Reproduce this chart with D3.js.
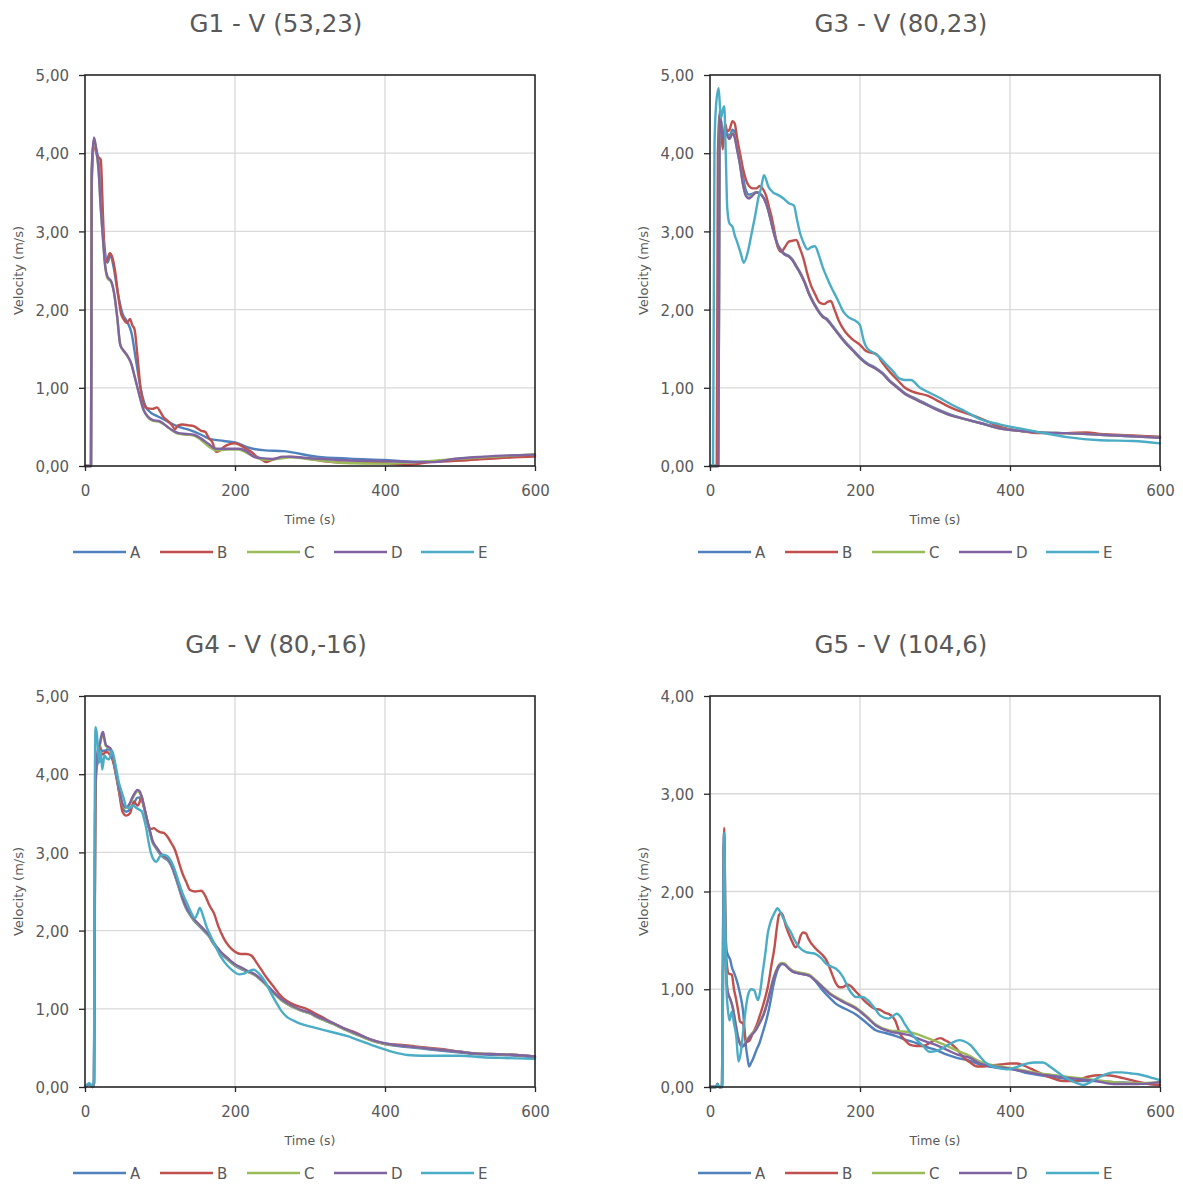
<!DOCTYPE html>
<html>
<head>
<meta charset="utf-8">
<script src="https://cdn.jsdelivr.net/npm/d3@7"></script>
<style>
  html, body { margin: 0; padding: 0; background: #ffffff; }
  svg { display: block; }
  text { font-family: "DejaVu Sans", sans-serif; fill: #595959; }
</style>
</head>
<body>
<svg id="chart" width="1183" height="1186"></svg>
<script>
// ---------- data (time s, velocity m/s) ----------
const seriesNames = ["A", "B", "C", "D", "E"];
const seriesColors = ["#4F81BD", "#C0504D", "#9BBB59", "#8064A2", "#4BACC6"];
const xTicks = [0, 200, 400, 600];
const titles = ["G1 - V (53,23)", "G3 - V (80,23)", "G4 - V (80,-16)", "G5 - V (104,6)"];
const yMaxes = [5, 5, 5, 4];

// G1
const g1A = [[0,0],[8,0],[9,3.7],[12,4.15],[15,4.05],[18,3.9],[22,3.3],[26,2.8],[30,2.6],[34,2.7],[38,2.55],[44,2.2],[50,1.95],[56,1.85],[62,1.7],[68,1.35],[74,1.0],[80,0.78],[88,0.68],[96,0.64],[110,0.57],[125,0.5],[140,0.46],[155,0.4],[165,0.35],[185,0.32],[200,0.3],[220,0.23],[240,0.2],[264,0.19],[309,0.12],[353,0.094],[398,0.077],[442,0.055],[487,0.064],[531,0.107],[600,0.136]];
const g1B = [[0,0],[8,0],[9,3.6],[12,4.15],[15,4.0],[18,3.95],[21,3.92],[24,3.2],[27,2.6],[30,2.65],[33,2.72],[36,2.68],[40,2.5],[44,2.2],[48,1.95],[52,1.87],[56,1.83],[60,1.88],[63,1.8],[66,1.75],[70,1.4],[74,1.0],[78,0.8],[82,0.74],[90,0.73],[96,0.75],[100,0.7],[105,0.62],[110,0.58],[116,0.52],[120,0.47],[124,0.52],[130,0.53],[138,0.52],[145,0.51],[150,0.48],[155,0.45],[160,0.44],[165,0.36],[170,0.3],[175,0.18],[180,0.2],[186,0.25],[193,0.28],[200,0.29],[208,0.26],[215,0.22],[222,0.18],[229,0.12],[236,0.08],[242,0.05],[250,0.08],[258,0.1],[273,0.12],[300,0.09],[330,0.05],[360,0.04],[400,0.035],[430,0.015],[460,0.05],[500,0.07],[550,0.1],[600,0.12]];
const g1C = [[0,0],[8,0],[9,3.8],[12,4.18],[15,4.03],[18,3.8],[21,3.3],[24,2.9],[27,2.55],[30,2.4],[35,2.35],[39,2.2],[43,1.9],[47,1.55],[52,1.46],[56,1.41],[62,1.3],[66,1.15],[70,1.0],[74,0.85],[78,0.72],[84,0.62],[90,0.58],[100,0.56],[110,0.5],[118,0.44],[125,0.41],[135,0.4],[145,0.39],[155,0.33],[165,0.25],[175,0.2],[190,0.21],[205,0.21],[215,0.17],[225,0.12],[240,0.08],[255,0.09],[275,0.11],[309,0.075],[353,0.035],[398,0.03],[442,0.05],[487,0.085],[531,0.11],[600,0.15]];
const g1D = [[0,0],[8,0],[9,3.8],[12,4.2],[15,4.05],[18,3.8],[21,3.3],[24,2.9],[27,2.55],[30,2.42],[35,2.36],[39,2.2],[43,1.9],[47,1.55],[52,1.47],[56,1.42],[62,1.3],[66,1.15],[70,1.0],[74,0.85],[78,0.72],[84,0.63],[90,0.59],[100,0.57],[110,0.5],[118,0.45],[125,0.42],[135,0.41],[145,0.4],[155,0.35],[165,0.28],[175,0.22],[190,0.22],[205,0.22],[215,0.19],[225,0.12],[235,0.1],[250,0.09],[264,0.12],[300,0.1],[353,0.07],[398,0.064],[442,0.05],[464,0.05],[487,0.085],[531,0.12],[600,0.145]];
const g1E = [];

// G3
const g3A = [[0,0],[11,0],[12,2.2],[13,4.45],[15,4.4],[17,4.25],[20,4.28],[23,4.25],[26,4.22],[30,4.3],[33,4.27],[36,4.12],[40,3.92],[44,3.7],[48,3.52],[52,3.47],[56,3.48],[62,3.5],[68,3.47],[72,3.42],[78,3.27],[82,3.12],[86,2.96],[90,2.84],[95,2.76],[100,2.71],[105,2.69],[110,2.64],[115,2.56],[120,2.48],[126,2.36],[132,2.21],[140,2.06],[145,1.98],[150,1.92],[156,1.88],[162,1.81],[170,1.71],[180,1.59],[190,1.49],[200,1.39],[210,1.31],[220,1.26],[230,1.19],[240,1.09],[250,1.01],[260,0.93],[270,0.88],[285,0.81],[300,0.74],[320,0.66],[340,0.6],[360,0.55],[387,0.49],[413,0.45],[440,0.43],[476,0.42],[520,0.4],[564,0.38],[600,0.37]];
const g3B = [[0,0],[9,0],[10.5,4.0],[13,4.5],[15,4.3],[17,4.05],[20,4.38],[23,4.28],[26,4.3],[30,4.41],[33,4.38],[36,4.2],[40,4.0],[44,3.8],[48,3.66],[52,3.58],[57,3.55],[62,3.55],[66,3.58],[70,3.55],[75,3.45],[79,3.3],[82,3.19],[86,3.0],[90,2.81],[95,2.74],[100,2.8],[105,2.87],[110,2.88],[115,2.89],[120,2.78],[125,2.64],[130,2.45],[135,2.3],[140,2.2],[146,2.09],[152,2.07],[157,2.1],[161,2.11],[166,2.0],[172,1.85],[180,1.72],[190,1.62],[200,1.55],[208,1.47],[215,1.45],[222,1.43],[230,1.32],[240,1.2],[250,1.1],[260,1.0],[270,0.95],[290,0.9],[310,0.8],[325,0.73],[340,0.68],[355,0.63],[370,0.57],[387,0.5],[413,0.45],[440,0.42],[476,0.42],[502,0.43],[520,0.41],[564,0.39],[600,0.37]];
const g3C = [[0,0],[11,0],[12,2.0],[13,4.5],[15,4.36],[17,4.22],[20,4.29],[22,4.25],[26,4.19],[30,4.26],[33,4.21],[36,4.06],[40,3.86],[44,3.61],[48,3.46],[52,3.43],[56,3.46],[62,3.5],[68,3.47],[72,3.42],[78,3.26],[82,3.1],[86,2.95],[90,2.83],[95,2.75],[100,2.7],[105,2.68],[110,2.63],[115,2.55],[120,2.47],[126,2.35],[132,2.2],[140,2.05],[145,1.97],[150,1.91],[156,1.87],[162,1.8],[170,1.7],[180,1.58],[190,1.48],[200,1.38],[210,1.3],[220,1.25],[230,1.18],[240,1.08],[250,1.0],[260,0.92],[270,0.87],[285,0.8],[300,0.73],[320,0.65],[340,0.6],[360,0.55],[387,0.48],[413,0.45],[440,0.43],[476,0.42],[520,0.4],[564,0.38],[600,0.36]];
const g3D = [[0,0],[11,0],[12,2.0],[13,4.55],[15,4.35],[17,4.2],[20,4.3],[22,4.25],[26,4.18],[30,4.25],[33,4.2],[36,4.05],[40,3.85],[44,3.6],[48,3.45],[52,3.42],[56,3.45],[62,3.5],[68,3.47],[72,3.42],[78,3.26],[82,3.1],[86,2.95],[90,2.83],[95,2.75],[100,2.7],[105,2.68],[110,2.63],[115,2.55],[120,2.47],[126,2.35],[132,2.2],[140,2.05],[145,1.97],[150,1.91],[156,1.87],[162,1.8],[170,1.7],[180,1.58],[190,1.48],[200,1.38],[210,1.3],[220,1.25],[230,1.18],[240,1.08],[250,1.0],[260,0.92],[270,0.87],[285,0.8],[300,0.73],[320,0.65],[340,0.6],[360,0.55],[387,0.48],[413,0.45],[440,0.43],[476,0.42],[520,0.4],[564,0.38],[600,0.36]];
const g3E = [[0,0],[4,0],[6,4.1],[8,4.6],[11.5,4.83],[14.5,4.45],[17,4.55],[19,4.6],[21,4.0],[23,3.3],[26,3.1],[30,3.06],[33,2.95],[36,2.87],[41,2.72],[45,2.6],[50,2.72],[55,2.95],[60,3.19],[65,3.45],[68,3.55],[72,3.72],[78,3.57],[84,3.5],[90,3.47],[98,3.42],[105,3.36],[112,3.33],[116,3.15],[120,2.98],[125,2.85],[130,2.77],[135,2.8],[140,2.81],[145,2.7],[150,2.55],[155,2.43],[162,2.28],[170,2.13],[178,1.97],[185,1.9],[195,1.85],[200,1.8],[205,1.6],[210,1.5],[218,1.45],[225,1.4],[235,1.3],[245,1.2],[252,1.12],[260,1.1],[268,1.1],[280,1.0],[290,0.95],[310,0.85],[325,0.77],[340,0.7],[360,0.6],[387,0.53],[413,0.48],[440,0.43],[476,0.37],[520,0.33],[564,0.32],[600,0.29]];

// G4
const g4A = [[0,0],[6,0.04],[10,0],[12,0.05],[13.5,3.5],[15,4.05],[17,4.15],[20,4.25],[22,4.3],[24,4.3],[27,4.3],[30,4.32],[34,4.3],[38,4.15],[41,4.0],[44,3.85],[47,3.7],[50,3.58],[55,3.52],[60,3.55],[65,3.62],[70,3.7],[74,3.7],[78,3.6],[82,3.43],[86,3.28],[90,3.13],[95,3.05],[100,2.98],[105,2.93],[110,2.9],[115,2.83],[120,2.7],[125,2.55],[130,2.4],[135,2.28],[140,2.2],[145,2.13],[150,2.08],[155,2.03],[160,1.98],[165,1.93],[170,1.85],[175,1.78],[182,1.7],[190,1.63],[200,1.55],[210,1.5],[218,1.47],[225,1.44],[232,1.39],[240,1.32],[248,1.24],[255,1.17],[262,1.11],[270,1.06],[280,1.01],[290,0.97],[300,0.94],[310,0.89],[320,0.85],[330,0.81],[345,0.74],[360,0.68],[375,0.62],[390,0.57],[400,0.55],[420,0.52],[440,0.5],[460,0.48],[480,0.46],[500,0.44],[520,0.42],[550,0.41],[575,0.4],[600,0.38]];
const g4B = [[0,0],[6,0.04],[10,0],[12,0.05],[13.5,3.0],[15,4.1],[17,4.2],[20,4.36],[22,4.27],[24,4.25],[27,4.28],[30,4.28],[33,4.25],[36,4.2],[40,4.07],[45,3.8],[50,3.52],[55,3.47],[60,3.5],[65,3.65],[70,3.6],[73,3.65],[75,3.73],[78,3.6],[82,3.45],[85,3.33],[88,3.3],[92,3.31],[96,3.28],[100,3.26],[105,3.25],[110,3.2],[115,3.12],[120,3.03],[125,2.88],[130,2.73],[135,2.62],[140,2.52],[147,2.5],[155,2.51],[160,2.45],[166,2.32],[172,2.22],[178,2.05],[185,1.9],[192,1.8],[200,1.73],[208,1.7],[215,1.7],[222,1.68],[228,1.6],[235,1.5],[242,1.4],[250,1.3],[258,1.2],[265,1.13],[275,1.07],[285,1.03],[295,1.0],[305,0.95],[315,0.9],[330,0.82],[345,0.75],[360,0.7],[375,0.63],[390,0.58],[400,0.55],[420,0.54],[440,0.52],[460,0.5],[480,0.48],[500,0.45],[520,0.43],[550,0.42],[575,0.41],[600,0.39]];
const g4C = [[0,0],[6,0.04],[10,0],[12,0.05],[13.5,3.5],[15,4.1],[17,4.28],[20,4.38],[22,4.47],[24,4.5],[26,4.43],[28,4.36],[31,4.34],[34,4.32],[38,4.19],[41,4.04],[44,3.89],[47,3.74],[50,3.61],[54,3.57],[58,3.59],[63,3.68],[67,3.75],[70,3.78],[73,3.76],[76,3.69],[79,3.57],[82,3.44],[86,3.29],[90,3.14],[95,3.06],[100,2.99],[105,2.94],[110,2.91],[115,2.84],[120,2.71],[125,2.57],[130,2.41],[135,2.29],[140,2.21],[145,2.14],[150,2.09],[155,2.04],[160,1.99],[165,1.94],[170,1.86],[175,1.79],[182,1.71],[190,1.64],[200,1.56],[210,1.51],[218,1.47],[225,1.44],[232,1.39],[240,1.32],[248,1.24],[255,1.17],[262,1.11],[270,1.06],[280,1.01],[290,0.97],[300,0.94],[310,0.89],[320,0.85],[330,0.81],[345,0.74],[360,0.68],[375,0.62],[390,0.57],[400,0.55],[420,0.53],[440,0.51],[460,0.49],[480,0.47],[500,0.45],[520,0.43],[550,0.42],[575,0.41],[600,0.39]];
const g4D = [[0,0],[6,0.04],[10,0],[12,0.05],[13.5,3.5],[15,4.1],[17,4.3],[20,4.4],[22,4.5],[24,4.54],[26,4.45],[28,4.37],[31,4.35],[34,4.33],[38,4.2],[41,4.05],[44,3.9],[47,3.75],[50,3.62],[54,3.58],[58,3.6],[63,3.7],[67,3.77],[70,3.8],[73,3.78],[76,3.7],[79,3.58],[82,3.45],[86,3.3],[90,3.15],[95,3.07],[100,3.0],[105,2.95],[110,2.92],[115,2.85],[120,2.72],[125,2.58],[130,2.42],[135,2.3],[140,2.22],[145,2.15],[150,2.1],[155,2.05],[160,2.0],[165,1.95],[170,1.87],[175,1.8],[182,1.72],[190,1.65],[200,1.57],[210,1.52],[218,1.48],[225,1.45],[232,1.4],[240,1.33],[248,1.25],[255,1.18],[262,1.12],[270,1.07],[280,1.02],[290,0.98],[300,0.95],[310,0.9],[320,0.86],[330,0.82],[345,0.75],[360,0.69],[375,0.63],[390,0.58],[400,0.56],[420,0.53],[440,0.51],[460,0.49],[480,0.47],[500,0.45],[520,0.43],[550,0.42],[575,0.41],[600,0.39]];
const g4E = [[0,0],[6,0.05],[10,0],[12,0.1],[13,3.5],[14,4.6],[16,4.5],[17.5,4.3],[19,4.15],[21,4.3],[23,4.06],[26,4.24],[29,4.2],[32,4.19],[36,4.3],[39,4.2],[42,4.05],[45,3.9],[48,3.8],[52,3.68],[55,3.58],[60,3.57],[64,3.6],[68,3.57],[72,3.55],[76,3.52],[79,3.42],[82,3.29],[85,3.12],[88,2.99],[92,2.9],[95,2.88],[100,2.95],[104,2.97],[110,2.95],[114,2.9],[118,2.82],[124,2.65],[130,2.48],[136,2.35],[142,2.22],[147,2.16],[150,2.22],[153,2.29],[157,2.2],[162,2.05],[168,1.92],[175,1.78],[182,1.65],[190,1.55],[198,1.48],[205,1.44],[212,1.45],[218,1.48],[225,1.5],[232,1.45],[240,1.35],[248,1.2],[255,1.08],[262,0.97],[270,0.89],[280,0.84],[290,0.8],[310,0.75],[330,0.7],[350,0.65],[370,0.58],[390,0.51],[410,0.45],[430,0.41],[450,0.4],[480,0.4],[500,0.4],[530,0.38],[560,0.37],[600,0.36]];

// G5
const g5A = [[0,0],[8,0],[10,0.03],[12,0],[16,0],[17,1.0],[18.5,2.6],[20,1.8],[22,1.4],[24,1.35],[27,1.3],[29,1.23],[33,1.15],[36,1.08],[39,0.99],[42,0.88],[44,0.78],[46,0.6],[48,0.41],[50,0.3],[52,0.21],[55,0.25],[58,0.3],[62,0.38],[66,0.45],[70,0.55],[75,0.68],[80,0.85],[84,1.02],[88,1.15],[92,1.23],[97,1.26],[102,1.24],[106,1.21],[112,1.18],[119,1.16],[127,1.15],[135,1.13],[142,1.07],[150,0.99],[160,0.91],[168,0.85],[180,0.8],[195,0.74],[208,0.66],[221,0.58],[235,0.55],[248,0.52],[262,0.48],[275,0.45],[288,0.41],[301,0.38],[316,0.33],[328,0.3],[346,0.27],[360,0.23],[380,0.2],[404,0.18],[425,0.14],[449,0.11],[470,0.09],[493,0.06],[515,0.06],[538,0.05],[570,0.04],[600,0.02]];
const g5B = [[0,0],[8,0],[10,0.03],[12,0],[16,0],[17.5,1.2],[19,2.65],[20.5,1.8],[22,1.3],[25,1.16],[29,1.15],[32,1.0],[35,0.89],[38,0.76],[40,0.67],[44,0.65],[46,0.55],[48,0.46],[52,0.47],[57,0.55],[62,0.63],[66,0.72],[72,0.87],[77,1.02],[82,1.25],[86,1.43],[89,1.62],[92,1.76],[95,1.78],[97,1.76],[101,1.65],[106,1.55],[110,1.48],[114,1.43],[117,1.45],[121,1.55],[124,1.58],[128,1.57],[131,1.52],[134,1.48],[137,1.45],[143,1.4],[150,1.35],[155,1.3],[159,1.23],[163,1.15],[168,1.06],[173,1.02],[177,1.02],[183,1.05],[188,1.03],[194,0.98],[199,0.94],[206,0.88],[212,0.84],[220,0.8],[227,0.79],[233,0.76],[240,0.74],[247,0.68],[253,0.55],[260,0.48],[267,0.43],[275,0.42],[284,0.42],[295,0.46],[307,0.5],[313,0.48],[320,0.45],[330,0.38],[338,0.3],[347,0.25],[356,0.21],[365,0.21],[373,0.22],[387,0.23],[400,0.24],[409,0.24],[418,0.22],[427,0.19],[438,0.15],[449,0.11],[460,0.08],[471,0.06],[489,0.06],[498,0.09],[507,0.11],[518,0.12],[529,0.12],[540,0.11],[551,0.09],[562,0.07],[573,0.05],[586,0.03],[600,0.02]];
const g5C = [[0,0],[8,0],[10,0.03],[12,0],[16,0],[17,1.0],[18.5,2.45],[20,1.6],[22,1.1],[24,0.97],[27,0.9],[30,0.83],[34,0.66],[37,0.53],[40,0.45],[43,0.42],[47,0.45],[50,0.49],[55,0.54],[61,0.59],[66,0.66],[72,0.76],[76,0.86],[80,0.98],[84,1.1],[88,1.19],[92,1.25],[96,1.27],[100,1.26],[105,1.22],[110,1.19],[120,1.17],[132,1.15],[140,1.1],[150,1.03],[160,0.96],[168,0.92],[180,0.87],[195,0.81],[208,0.73],[221,0.64],[239,0.58],[252,0.57],[266,0.56],[276,0.54],[290,0.5],[301,0.47],[316,0.42],[330,0.37],[346,0.32],[360,0.26],[380,0.22],[404,0.19],[425,0.16],[449,0.13],[470,0.11],[493,0.09],[515,0.07],[538,0.05],[570,0.04],[600,0.05]];
const g5D = [[0,0],[8,0],[10,0.03],[12,0],[16,0],[17,1.0],[18.5,2.5],[20,1.6],[22,1.1],[24,0.96],[27,0.9],[30,0.82],[34,0.65],[37,0.52],[40,0.44],[43,0.41],[47,0.44],[50,0.48],[55,0.53],[61,0.58],[66,0.65],[72,0.75],[76,0.85],[80,0.97],[84,1.09],[88,1.18],[92,1.24],[96,1.26],[100,1.25],[105,1.21],[110,1.18],[120,1.16],[132,1.14],[140,1.09],[150,1.02],[160,0.95],[168,0.91],[180,0.86],[195,0.8],[208,0.72],[221,0.63],[239,0.57],[252,0.55],[266,0.53],[276,0.5],[290,0.46],[301,0.43],[316,0.38],[330,0.33],[346,0.3],[360,0.24],[380,0.21],[404,0.18],[425,0.15],[449,0.12],[470,0.1],[493,0.08],[515,0.06],[538,0.03],[570,0.03],[600,0.05]];
const g5E = [[0,0],[8,0],[10,0.03],[12,0],[16,0],[17.5,1.2],[19,2.6],[20.5,1.6],[22,1.0],[23.5,0.82],[26,0.68],[29,0.77],[32,0.65],[35,0.52],[38,0.26],[41,0.35],[44,0.55],[48,0.82],[51,0.95],[55,1.0],[59,0.99],[62,0.92],[64,0.89],[67,0.98],[70,1.16],[74,1.38],[77,1.57],[80,1.67],[84,1.75],[88,1.81],[90,1.83],[93,1.8],[97,1.74],[102,1.66],[108,1.58],[113,1.5],[119,1.43],[128,1.38],[135,1.37],[141,1.36],[148,1.32],[155,1.26],[162,1.23],[168,1.21],[177,1.13],[186,0.99],[195,0.92],[204,0.92],[210,0.89],[215,0.85],[221,0.79],[227,0.73],[238,0.7],[243,0.72],[249,0.75],[254,0.72],[260,0.64],[268,0.55],[276,0.48],[284,0.42],[293,0.36],[302,0.37],[311,0.4],[322,0.45],[333,0.48],[341,0.46],[347,0.43],[358,0.33],[369,0.24],[382,0.2],[396,0.18],[407,0.2],[418,0.23],[432,0.25],[444,0.25],[453,0.21],[462,0.16],[471,0.11],[480,0.07],[489,0.04],[498,0.02],[507,0.05],[516,0.09],[527,0.13],[538,0.15],[549,0.15],[560,0.14],[571,0.13],[582,0.11],[591,0.09],[600,0.07]];

const panelSeries = [
  [g1A, g1B, g1C, g1D, g1E],
  [g3A, g3B, g3C, g3D, g3E],
  [g4A, g4B, g4C, g4D, g4E],
  [g5A, g5B, g5C, g5D, g5E]
];

// ---------- drawing ----------
const svg = d3.select("#chart");
const plotW = 450, plotH = 391;
const fmt = v => d3.format(".2f")(v).replace(".", ",");

panelSeries.forEach((series, i) => {
  const col = i % 2, row = Math.floor(i / 2);
  const left = 85 + col * 625, top = 75 + row * 621;
  const g = svg.append("g").attr("transform", `translate(${left},${top})`);

  const x = d3.scaleLinear().domain([0, 600]).range([0, plotW]);
  const y = d3.scaleLinear().domain([0, yMaxes[i]]).range([plotH, 0]);
  const yTicks = d3.range(0, yMaxes[i] + 0.001, 1);

  // gridlines
  g.append("g").selectAll("line.h").data(yTicks.filter(v => v > 0 && v < yMaxes[i]))
    .join("line").attr("x1", 0).attr("x2", plotW)
    .attr("y1", d => y(d)).attr("y2", d => y(d))
    .attr("stroke", "#d9d9d9").attr("stroke-width", 1.3);
  g.append("g").selectAll("line.v").data(xTicks.filter(v => v > 0 && v < 600))
    .join("line").attr("y1", 0).attr("y2", plotH)
    .attr("x1", d => x(d)).attr("x2", d => x(d))
    .attr("stroke", "#d9d9d9").attr("stroke-width", 1.3);

  // series lines
  const line = d3.line().x(d => x(d[0])).y(d => y(d[1])).curve(d3.curveMonotoneX);
  series.forEach((data, k) => {
    if (!data.length) return;
    g.append("path").datum(data).attr("d", line)
      .attr("fill", "none").attr("stroke", seriesColors[k])
      .attr("stroke-width", 2.4).attr("stroke-linejoin", "round").attr("stroke-linecap", "round");
  });

  // axes
  const yAxis = d3.axisLeft(y).tickValues(yTicks).tickFormat(fmt).tickSize(6).tickSizeOuter(0).tickPadding(10);
  const yg = g.append("g").call(yAxis);
  yg.selectAll("text").style("font-size", "15px").attr("fill", "#595959").attr("dy", "0.38em");
  const xAxis = d3.axisBottom(x).tickValues(xTicks).tickFormat(d3.format("d")).tickSize(5).tickSizeOuter(0).tickPadding(14);
  const xg = g.append("g").attr("transform", `translate(0,${plotH})`).call(xAxis);
  xg.selectAll("text").style("font-size", "15px").attr("fill", "#595959");
  [yg, xg].forEach(a => {
    a.select(".domain").remove();
    a.selectAll(".tick line").attr("stroke", "#262626").attr("stroke-width", 1.3);
    a.selectAll("text").style("font-family", "DejaVu Sans");
  });

  // frame
  g.append("rect").attr("x", 0).attr("y", 0).attr("width", plotW).attr("height", plotH)
    .attr("fill", "none").attr("stroke", "#262626").attr("stroke-width", 1.6);

  // title
  g.append("text").attr("x", 191).attr("y", -43).attr("text-anchor", "middle")
    .style("font-size", "24.5px").text(titles[i]);

  // axis titles
  g.append("text").attr("x", plotW / 2).attr("y", plotH + 58).attr("text-anchor", "middle")
    .style("font-size", "12.5px").text("Time (s)");
  g.append("text").attr("transform", `translate(-62,${plotH / 2}) rotate(-90)`)
    .attr("text-anchor", "middle").style("font-size", "13px").text("Velocity (m/s)");

  // legend
  const lg = g.append("g").attr("transform", `translate(-12,${plotH + 86})`);
  seriesNames.forEach((nm, k) => {
    const ox = k * 87;
    lg.append("line").attr("x1", ox).attr("x2", ox + 53).attr("y1", 0).attr("y2", 0)
      .attr("stroke", seriesColors[k]).attr("stroke-width", 2.4);
    lg.append("text").attr("x", ox + 57).attr("y", 6).style("font-size", "15px").text(nm);
  });
});
</script>
</body>
</html>
